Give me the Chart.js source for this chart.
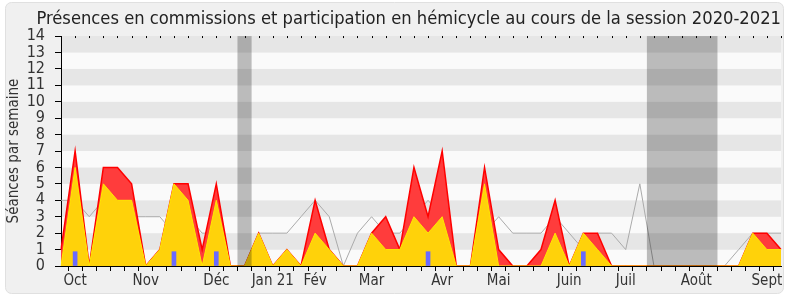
<!DOCTYPE html>
<html>
<head>
<meta charset="utf-8">
<script src="https://cdn.jsdelivr.net/npm/chart.js@4/dist/chart.umd.min.js"></script>
<style>
  html, body { margin: 0; padding: 0; background: #ffffff; }
  #wrap { width: 790px; height: 300px; position: relative; }
</style>
</head>
<body>
<div id="wrap"><canvas id="c" width="790" height="300"></canvas></div>
<script>
// One entry per week of the 2020-2021 session (52 weeks)
const weekLabels = ["", "Oct", "", "", "", "", "Nov", "", "", "", "", "Déc", "", "", "", "Jan 21", "", "", "Fév", "", "", "", "Mar", "", "", "", "", "Avr", "", "", "", "Mai", "", "", "", "", "Juin", "", "", "", "Juil", "", "", "", "", "Août", "", "", "", "", "Sept", ""];

// Total weekly presence (commission + hémicycle) — top of the red area
const presenceTotal = [1, 7, 0, 6, 6, 5, 0, 1, 5, 5, 1, 5, 0, 0, 2, 0, 1, 0, 4, 1, 0, 0, 2, 3, 1, 6, 3, 7, 0, 0, 6, 1, 0, 0, 1, 4, 0, 2, 2, 0, 0, 0, 0, 0, 0, 0, 0, 0, 0, 2, 2, 1];

// Hémicycle participation — yellow area
const hemicycle = [0, 6, 0, 5, 4, 4, 0, 1, 5, 4, 0, 4, 0, 0, 2, 0, 1, 0, 2, 1, 0, 0, 2, 1, 1, 3, 2, 3, 0, 0, 5, 0, 0, 0, 0, 2, 0, 2, 1, 0, 0, 0, 0, 0, 0, 0, 0, 0, 0, 2, 1, 1];

// Median of all deputies — grey line
const medianDeputes = [4, 4, 3, 4, 3, 3, 3, 3, 2, 3, 2, 2, 0, 0, 2, 2, 2, 3, 4, 3, 0, 2, 3, 2, 2, 3, 4, 3, 0, 0, 2, 3, 2, 2, 2, 3, 2, 1, 2, 2, 1, 5, 0, 0, 0, 0, 0, 0, 1, 2, 2, 2];

// Oral questions — blue bars
const questionsOrales = [null, 0.87, null, null, null, null, null, null, 0.87, null, null, 0.87, null, null, null, null, null, null, null, null, null, null, null, null, null, null, 0.87, null, null, null, null, null, null, null, null, null, null, 0.87, null, null, null, null, null, null, null, null, null, null, null, null, null, null];

// Parliamentary holidays, as [first week index, last week index]
const vacances = [[13, 13], [42, 46]];

const yTicks = [0, 1, 2, 3, 4, 5, 6, 7, 8, 9, 10, 11, 12, 13, 14];

const FONT = "'DejaVu Sans Condensed', 'DejaVu Sans', sans-serif";

const backgroundPlugin = {
  id: 'bgPlugin',
  beforeDraw(chart) {
    const ctx = chart.ctx;
    ctx.save();
    ctx.fillStyle = '#ffffff';
    ctx.fillRect(0, 0, chart.width, chart.height);
    ctx.beginPath();
    ctx.roundRect(5.5, 2.5, 778, 291, 6);
    ctx.fillStyle = '#f0f0f0';
    ctx.fill();
    ctx.strokeStyle = '#e0e0e0';
    ctx.lineWidth = 1;
    ctx.stroke();
    // alternating horizontal bands
    const a = chart.chartArea;
    const y = chart.scales.y;
    for (let v = 0; v < 14; v++) {
      const top = y.getPixelForValue(v + 1);
      const bot = y.getPixelForValue(v);
      ctx.fillStyle = (v % 2 === 1) ? '#e6e6e6' : '#fafafa';
      ctx.fillRect(a.left, top, a.right - a.left, bot - top);
    }
    ctx.restore();
  },
  afterDatasetsDraw(chart) {
    const ctx = chart.ctx;
    const a = chart.chartArea;
    const x = chart.scales.x;
    ctx.save();
    ctx.fillStyle = 'rgba(0,0,0,0.25)';
    vacances.forEach(([s, e]) => {
      const l = x.getPixelForValue(s - 0.5);
      const r = x.getPixelForValue(e + 0.5);
      ctx.fillRect(l, a.top, r - l, a.bottom - a.top);
    });
    // small tick marks along the top edge
    ctx.fillStyle = '#000';
    for (let i = 0; i < weekLabels.length; i++) {
      const px = Math.round(x.getPixelForValue(i));
      ctx.fillRect(px, a.top, 1, 2);
    }
    ctx.restore();
  }
};

new Chart(document.getElementById('c'), {
  type: 'bar',
  data: {
    labels: weekLabels,
    datasets: [
      {
        type: 'bar',
        label: 'Questions orales',
        data: questionsOrales,
        backgroundColor: '#6a6aff',
        barThickness: 4,
        order: 1
      },
      {
        type: 'line',
        label: 'Hémicycle',
        data: hemicycle,
        borderColor: '#ffe800',
        borderWidth: 1,
        backgroundColor: '#ffd20a',
        fill: 'origin',
        pointRadius: 0,
        tension: 0,
        order: 2
      },
      {
        type: 'line',
        label: 'Présences',
        data: presenceTotal,
        borderColor: '#ff0000',
        borderWidth: 1.5,
        backgroundColor: '#ff3c3c',
        fill: 'origin',
        pointRadius: 0,
        tension: 0,
        order: 3
      },
      {
        type: 'line',
        label: 'Médiane',
        data: medianDeputes,
        borderColor: '#aaaaaa',
        borderWidth: 1,
        fill: false,
        pointRadius: 0,
        tension: 0,
        order: 4
      }
    ]
  },
  options: {
    responsive: false,
    animation: false,
    devicePixelRatio: 1,
    layout: { padding: { left: 5, right: 9, top: 0, bottom: 0 } },
    plugins: {
      legend: { display: false },
      tooltip: { enabled: false },
      title: {
        display: true,
        text: 'Présences en commissions et participation en hémicycle au cours de la session 2020-2021',
        align: 'end',
        color: '#222',
        font: { family: FONT, size: 18.2, weight: 'normal' },
        padding: { top: 8, bottom: 6.2 }
      }
    },
    scales: {
      x: {
        type: 'category',
        offset: false,
        grid: { drawOnChartArea: false, drawTicks: true, tickLength: 5, color: '#000' },
        border: { display: true, color: '#000', width: 1 },
        ticks: {
          autoSkip: false,
          maxRotation: 0,
          minRotation: 0,
          color: '#333',
          padding: 1,
          font: { family: FONT, size: 15 }
        },
        afterFit(s) { s.height = 34; }
      },
      y: {
        min: 0,
        max: 14,
        afterBuildTicks(s) { s.ticks = yTicks.map(v => ({ value: v })); },
        grid: { drawOnChartArea: false, drawTicks: true, tickLength: 6, color: '#000' },
        border: { display: true, color: '#000', width: 1 },
        ticks: {
          autoSkip: false,
          color: '#333',
          padding: 10,
          font: { family: FONT, size: 16 }
        },
        title: {
          display: true,
          text: 'Séances par semaine',
          color: '#333',
          font: { family: FONT, size: 15 },
          padding: 0
        },
        afterFit(s) { s.width = 56; }
      }
    }
  },
  plugins: [backgroundPlugin]
});
</script>
</body>
</html>
